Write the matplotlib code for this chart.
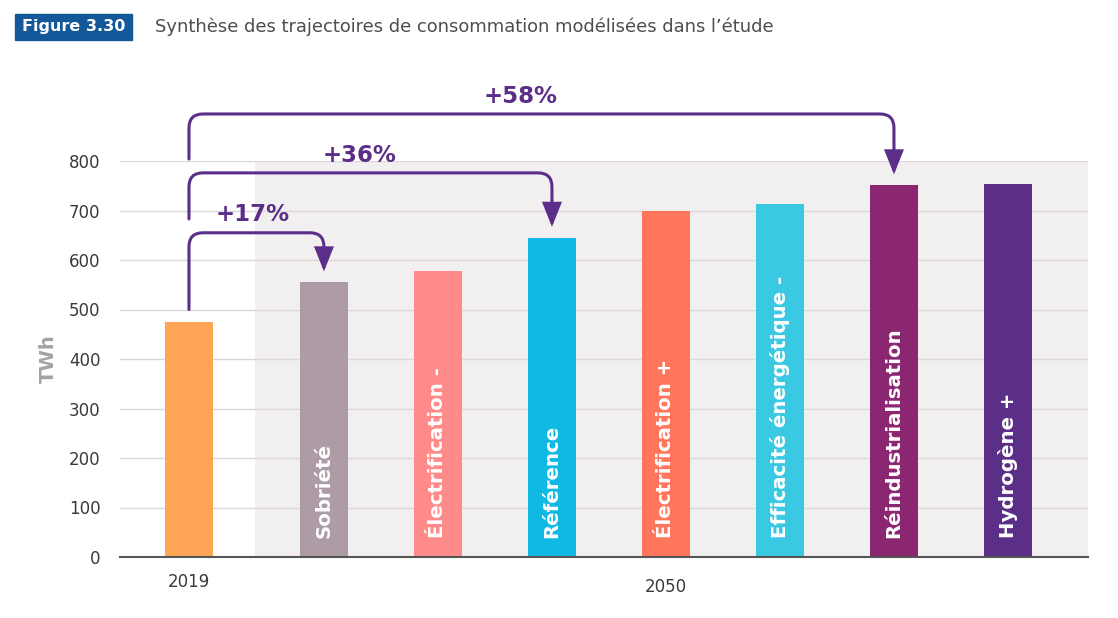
import numpy as np
import matplotlib.pyplot as plt
from matplotlib.path import Path
from matplotlib.patches import FancyArrowPatch, Rectangle

# data
scenarios = ["Sobriété", "Électrification -", "Référence", "Électrification +",
             "Efficacité énergétique -", "Réindustrialisation", "Hydrogène +"]
value_2019 = 475
values_2050 = [555, 578, 645, 700, 714, 751, 754]
colors_2050 = ["#AD9BA5", "#FF8A8A", "#0FB9E4", "#FF765D", "#39C9E3", "#8B2771", "#5B2E87"]
color_2019 = "#FFA556"
yticks = [0, 100, 200, 300, 400, 500, 600, 700, 800]

# arrows: target scenario index, label, start level, top level
arrows = [(0, "+17%", 500, 655), (2, "+36%", 683, 776), (5, "+58%", 804, 895)]

purple = "#5B2E8A"

W, H = 1118, 618
fig = plt.figure(figsize=(W / 100, H / 100), dpi=100)
ax = fig.add_axes([120 / W, 1 - 557 / H, 968 / W, 396 / H])

x2019 = 0.0
x2050 = 1.184 + np.arange(len(scenarios))
bar_w = 0.42

ax.set_xlim(-0.605, 7.886)
ax.set_ylim(0, 800)

# grey background behind the 2050 scenarios
ax.axvspan(0.579, 7.886, color="#F1EFF0", zorder=0, lw=0)

ax.bar(x2019, value_2019, width=bar_w, color=color_2019, zorder=2)
ax.bar(x2050, values_2050, width=bar_w, color=colors_2050, zorder=2)

for x, name in zip(x2050, scenarios):
    ax.text(x, 38, name, rotation=90, ha="center", va="bottom", color="white",
            fontsize=14.2, fontweight="bold", zorder=3)

ax.set_yticks(yticks)
ax.tick_params(axis="y", length=0, pad=14, labelsize=12, labelcolor="#3A3A3A")
ax.set_xticks([])
ax.yaxis.grid(True, color="#DDD7DA", lw=1)
ax.set_axisbelow(True)
for s in ["top", "right", "left"]:
    ax.spines[s].set_visible(False)
ax.spines["bottom"].set_color("#555555")
ax.spines["bottom"].set_linewidth(1.5)
ax.spines["bottom"].set_zorder(4)

ax.set_ylabel("TWh", fontsize=14, fontweight="bold", color="#A3A3A3", labelpad=8)

ax.annotate("2019", (x2019, 0), xycoords="data", xytext=(0, -25), textcoords="offset pixels",
            ha="center", va="center", fontsize=12, color="#3A3A3A")
ax.annotate("2050", (x2050.mean(), 0), xycoords="data", xytext=(0, -30), textcoords="offset pixels",
            ha="center", va="center", fontsize=12, color="#3A3A3A")

# rounded bracket arrows
px_x = 968 / (7.886 + 0.605)
px_y = 396 / 800
r = 14
rx, ry = r / px_x, r / px_y
for idx, label, y0, yh in arrows:
    x1 = x2050[idx]
    ytip = values_2050[idx] + 22
    verts = [(x2019, y0), (x2019, yh - ry), (x2019, yh), (x2019 + rx, yh),
             (x1 - rx, yh), (x1, yh), (x1, yh - ry), (x1, ytip)]
    codes = [Path.MOVETO, Path.LINETO, Path.CURVE3, Path.CURVE3,
             Path.LINETO, Path.CURVE3, Path.CURVE3, Path.LINETO]
    arr = FancyArrowPatch(path=Path(verts, codes), arrowstyle="-|>,head_length=0.7,head_width=0.28",
                          mutation_scale=20, color=purple, lw=2.2, shrinkA=0, shrinkB=0,
                          transform=ax.transData, clip_on=False, zorder=5, joinstyle="miter")
    ax.add_patch(arr)
    ax.text(x2019 + 0.47 * (x1 - x2019), yh + 36, label, ha="center", va="center",
            fontsize=16.5, fontweight="bold", color=purple, clip_on=False)

# header
fig.patches.append(Rectangle((15 / W, 1 - 40 / H), 117 / W, 26 / H, transform=fig.transFigure,
                             color="#13599A", zorder=1))
fig.text(73.5 / W, 1 - 27 / H, "Figure 3.30", ha="center", va="center", color="white",
         fontsize=11.5, fontweight="bold")
fig.text(155 / W, 1 - 27 / H, "Synthèse des trajectoires de consommation modélisées dans l’étude",
         ha="left", va="center", color="#4D4D4D", fontsize=12.9)

fig.savefig("out.png", dpi=100)
